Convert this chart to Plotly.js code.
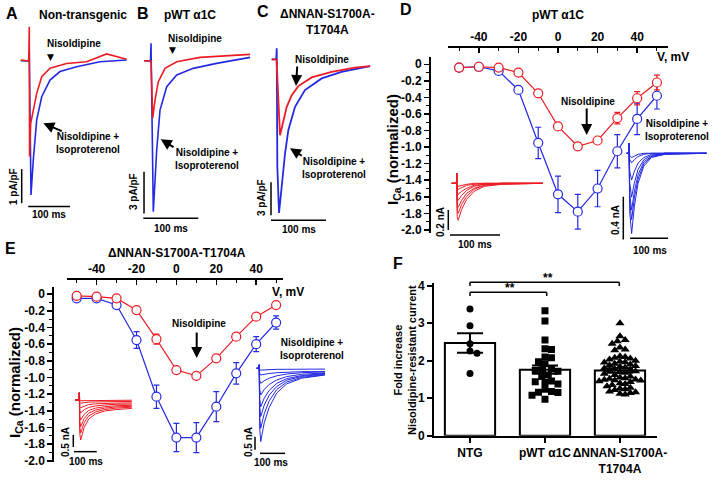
<!DOCTYPE html>
<html>
<head>
<meta charset="utf-8">
<script src="https://cdn.plot.ly/plotly-3.0.1.min.js"></script>
<style>
  body { margin: 0; background: #fff; }
  #fig { width: 713px; height: 489px; }
</style>
</head>
<body>
<div id="fig"></div>
<script>
// ---- panel A-C: example traces (time in ms, current in pA/pF) ----
const aRedT = [0, 19.4, 20.6, 21.3, 24, 30.2, 38.4, 50.4, 70.3, 110, 158, 206, 254];
const aRedI = [0.02, -0.01, 1.0, -2.82, -1.84, -1.45, -0.96, -0.47, -0.22, -0.08, -0.03, 0.2, 0.04];
const aBlueT = [0, 18.7, 20.6, 24.7, 30.2, 38.4, 50.4, 70.3, 94.2, 134, 190, 254];
const aBlueI = [0, -0.01, 0.31, -3.95, -2.92, -1.74, -1.06, -0.57, -0.32, -0.18, -0.03, 0.02];

const bRedT = [0, 12.7, 15.8, 20, 26, 38.2, 59.5, 102, 193];
const bRedI = [0, -0.02, -4.14, -2.83, -1.51, -0.55, -0.07, 0.24, 0.46];
const bBlueT = [0, 11.8, 12.7, 16.9, 23.1, 29.1, 41.3, 59.5, 89.6, 132, 193];
const bBlueI = [0, -0.02, 1.25, -10.86, -6.42, -3.55, -1.87, -1.03, -0.55, -0.19, 0.24];

const cRedT = [0, 8.7, 15.1, 21.1, 27.3, 36.4, 48.4, 72.7, 109, 151, 179];
const cRedI = [0, 0, -6.89, -5.52, -4.31, -3.25, -2.43, -1.64, -1.13, -0.76, -0.61];
const cBlueT = [0, 8.2, 9.1, 10.2, 13.3, 18.2, 24.2, 30.2, 42.4, 60.5, 90.9, 127, 179];
const cBlueI = [0, 0, 1.0, -9.76, -13.95, -11.58, -8.55, -6.43, -4.31, -2.79, -1.73, -1.13, -0.61];

// ---- panel D / E: I-V curves ----
const volts = [-50, -40, -30, -20, -10, 0, 10, 20, 30, 40, 50];
const dRed = [-0.04, -0.03, -0.04, -0.10, -0.35, -0.75, -0.99, -0.92, -0.65, -0.41, -0.22];
const dRedErr = [0.01, 0.01, 0.02, 0.03, 0.03, 0.04, 0.03, 0.03, 0.07, 0.08, 0.09];
const dBlue = [-0.04, -0.03, -0.08, -0.31, -0.95, -1.57, -1.78, -1.50, -1.05, -0.66, -0.38];
const dBlueErr = [0.01, 0.02, 0.04, 0.03, 0.19, 0.22, 0.21, 0.22, 0.20, 0.19, 0.16];

const eRed = [-0.02, -0.03, -0.05, -0.19, -0.54, -0.91, -0.98, -0.77, -0.51, -0.27, -0.13];
const eRedErr = [0.02, 0.02, 0.02, 0.03, 0.06, 0.02, 0.02, 0.02, 0.02, 0.03, 0.02];
const eBlue = [-0.05, -0.05, -0.13, -0.55, -1.23, -1.72, -1.72, -1.35, -0.95, -0.60, -0.34];
const eBlueErr = [0.02, 0.02, 0.02, 0.10, 0.14, 0.17, 0.18, 0.18, 0.13, 0.09, 0.08];

const ivTickVals = [-40, -20, 0, 20, 40];
const ivTickText = ['-40', '-20', '0', '20', '40'];
const ivMinorVals = [-50, -30, -10, 10, 30, 50];
const iTickVals = [0, -0.2, -0.4, -0.6, -0.8, -1.0, -1.2, -1.4, -1.6, -1.8, -2.0];
const iTickText = ['0', '-0.2', '-0.4', '-0.6', '-0.8', '-1.0', '-1.2', '-1.4', '-1.6', '-1.8', '-2.0'];
const iMinorVals = [-0.1, -0.3, -0.5, -0.7, -0.9, -1.1, -1.3, -1.5, -1.7, -1.9];

// ---- inset current families (time ms, current nA) ----
const dInRedT = [0, 9.5, 10, 11, 13, 20, 30, 45, 65, 100, 182];
const dInRed = [
  [0, 0, 0.1, -0.33, -0.37, -0.26, -0.16, -0.08, -0.03, -0.01, 0],
  [0, 0, 0.1, -0.27, -0.30, -0.21, -0.13, -0.06, -0.02, -0.01, 0],
  [0, 0, 0.1, -0.21, -0.24, -0.17, -0.10, -0.05, -0.02, 0, 0],
  [0, 0, 0.1, -0.15, -0.17, -0.12, -0.07, -0.03, -0.01, 0, 0],
  [0, 0, 0.1, -0.09, -0.11, -0.08, -0.05, -0.02, -0.01, 0, 0],
  [0, 0, 0.1, -0.05, -0.06, -0.04, -0.02, -0.01, 0, 0, 0],
  [0, 0, 0.1, -0.02, -0.03, -0.02, -0.01, 0, 0, 0, 0]
];
const dInBlueT = [0, 5, 6, 8, 13, 20, 30, 45, 65, 100, 210];
const dInBlue = [
  [0, 0, 0.09, -0.55, -0.75, -0.50, -0.28, -0.12, -0.04, -0.01, 0],
  [0, 0, 0.09, -0.45, -0.62, -0.42, -0.24, -0.10, -0.03, -0.01, 0],
  [0, 0, 0.09, -0.38, -0.53, -0.36, -0.20, -0.08, -0.03, 0, 0],
  [0, 0, 0.09, -0.28, -0.41, -0.28, -0.15, -0.06, -0.02, 0, 0],
  [0, 0, 0.09, -0.17, -0.25, -0.17, -0.09, -0.04, -0.01, 0, 0],
  [0, 0, 0.09, -0.06, -0.09, -0.06, -0.03, -0.01, 0, 0, 0],
  [0, 0, 0.09, -0.02, -0.04, -0.03, -0.01, 0, 0, 0, 0]
];
const eInRedT = [0, 18, 19, 21, 25, 40, 60, 90, 130, 180, 250];
const eInRed = [
  [0, 0, 0.3, -1.40, -1.67, -1.15, -0.80, -0.58, -0.46, -0.40, -0.35],
  [0, 0, 0.3, -1.15, -1.38, -0.95, -0.67, -0.50, -0.40, -0.34, -0.30],
  [0, 0, 0.3, -0.92, -1.11, -0.78, -0.55, -0.42, -0.34, -0.29, -0.26],
  [0, 0, 0.3, -0.70, -0.83, -0.60, -0.44, -0.34, -0.28, -0.24, -0.22],
  [0, 0, 0.3, -0.45, -0.54, -0.41, -0.31, -0.25, -0.21, -0.18, -0.17],
  [0, 0, 0.3, -0.27, -0.32, -0.25, -0.19, -0.16, -0.14, -0.13, -0.12],
  [0, 0, 0.3, -0.11, -0.13, -0.11, -0.09, -0.08, -0.07, -0.06, -0.06],
  [0, 0, 0.3, -0.02, -0.03, -0.03, -0.02, -0.02, -0.02, -0.01, -0.01]
];
const eInBlueT = [0, 9, 10, 12, 16, 30, 50, 80, 120, 180, 273];
const eInBlue = [
  [0, 0, 0.13, -2.30, -2.82, -2.10, -1.50, -0.95, -0.60, -0.38, -0.26],
  [0, 0, 0.13, -1.90, -2.31, -1.75, -1.25, -0.82, -0.53, -0.35, -0.24],
  [0, 0, 0.13, -1.50, -1.86, -1.42, -1.03, -0.70, -0.46, -0.31, -0.22],
  [0, 0, 0.13, -1.20, -1.48, -1.15, -0.85, -0.58, -0.40, -0.28, -0.20],
  [0, 0, 0.13, -0.83, -1.03, -0.82, -0.62, -0.45, -0.32, -0.23, -0.18],
  [0, 0, 0.13, -0.46, -0.58, -0.48, -0.38, -0.29, -0.22, -0.17, -0.14],
  [0, 0, 0.13, -0.20, -0.26, -0.23, -0.20, -0.17, -0.15, -0.13, -0.13],
  [0, 0, 0.13, -0.05, -0.07, -0.06, -0.05, -0.04, -0.04, -0.03, -0.03]
];

// ---- panel F ----
const fCats = ['NTG', 'pWT \u03b11C', '\u0394NNAN-S1700A-<br>T1704A'];
const fMeans = [2.47, 1.76, 1.74];
const fSem = [0.26, 0.11, 0.06];
const fNTG = [3.38, 2.93, 2.45, 2.26, 2.20, 1.66];
const fPWT = [3.33, 3.06, 2.55, 2.32, 2.30, 2.10, 2.08, 1.97, 1.92, 1.78, 1.76, 1.74, 1.72,
  1.62, 1.58, 1.46, 1.44, 1.42, 1.38, 1.24, 1.18, 1.16, 1.15, 1.08, 0.97];
const fMut = [3.00, 2.65, 2.55, 2.52, 2.45, 2.35, 2.30, 2.28, 2.12, 2.10, 2.08, 2.06, 2.03, 2.00,
  1.98, 1.96, 1.95, 1.92, 1.90, 1.88, 1.86, 1.84, 1.82, 1.80, 1.78, 1.76, 1.74, 1.72, 1.70, 1.68,
  1.65, 1.62, 1.58, 1.55, 1.53, 1.52, 1.50, 1.49, 1.48, 1.47, 1.45, 1.43, 1.40, 1.38, 1.35, 1.32,
  1.28, 1.26, 1.24, 1.22, 1.18, 1.16, 1.14, 1.12, 1.10];
const fTickVals = [0, 1, 2, 3, 4];

const W = 713, H = 489;
const FONT = 'Liberation Sans, Arial, sans-serif';
const RED = 'rgb(236,28,36)';
const BLUE = 'rgb(36,42,226)';
const TICKFONT = {family: FONT, size: 12, color: 'black', weight: 'bold'};

function dx(p) { return p / W; }
function dy(p) { return 1 - p / H; }

// simple beeswarm: spread points sideways so they don't overlap (pixel space)
function swarm(vals, center, pxPerX, pxPerY, diam) {
  const order = vals.map((v, i) => i).sort((a, b) => vals[b] - vals[a]);
  const placed = [];
  const xs = new Array(vals.length);
  order.forEach(i => {
    const yp = vals[i] * pxPerY;
    for (let k = 0; k < 200; k++) {
      const off = (k === 0 ? 0 : (k % 2 ? 1 : -1) * Math.ceil(k / 2)) * diam * 0.5;
      const ok = placed.every(p => Math.hypot(p[0] - off, p[1] - yp) >= diam);
      if (ok) { placed.push([off, yp]); xs[i] = center + off / pxPerX; break; }
    }
  });
  return xs;
}

const data = [];
function line(x, y, xa, ya, color, w) {
  data.push({x: x, y: y, xaxis: xa, yaxis: ya, mode: 'lines', line: {color: color, width: w}, hoverinfo: 'skip'});
}

// A, B, C
line(aBlueT, aBlueI, 'x4', 'y4', BLUE, 1.6);
line(aRedT, aRedI, 'x4', 'y4', RED, 1.6);
line(bBlueT, bBlueI, 'x5', 'y5', BLUE, 1.6);
line(bRedT, bRedI, 'x5', 'y5', RED, 1.6);
line(cBlueT, cBlueI, 'x6', 'y6', BLUE, 1.8);
line(cRedT, cRedI, 'x6', 'y6', RED, 1.8);

// insets
dInRed.forEach(tr => line(dInRedT, tr, 'x7', 'y7', RED, 1));
dInBlue.forEach(tr => line(dInBlueT, tr, 'x8', 'y8', BLUE, 1));
eInRed.forEach(tr => line(eInRedT, tr, 'x9', 'y9', RED, 1));
eInBlue.forEach(tr => line(eInBlueT, tr, 'x10', 'y10', BLUE, 1));

// I-V curves
function iv(y, err, xa, ya, color) {
  data.push({
    x: volts, y: y, xaxis: xa, yaxis: ya, mode: 'lines+markers',
    line: {color: color, width: 1.2},
    marker: {symbol: 'circle', size: 9, color: 'white', line: {color: color, width: 1.2}},
    error_y: {type: 'data', array: err, visible: true, color: color, thickness: 1.2, width: 3},
    hoverinfo: 'skip'
  });
}
iv(dBlue, dBlueErr, 'x', 'y', BLUE);
iv(dRed, dRedErr, 'x', 'y', RED);
iv(eBlue, eBlueErr, 'x2', 'y2', BLUE);
iv(eRed, eRedErr, 'x2', 'y2', RED);

// F bars + points + SEM
data.push({
  type: 'bar', x: [0, 1, 2], y: fMeans, width: 0.67, xaxis: 'x3', yaxis: 'y3',
  marker: {color: 'white', line: {color: 'black', width: 2}}, hoverinfo: 'skip'
});
const groups = [[fNTG, 'circle', 7, 7], [fPWT, 'square', 7, 6.5], [fMut, 'triangle-up', 8, 5.2]];
groups.forEach((g, i) => {
  data.push({
    x: swarm(g[0], i, 75, 37.5, g[3]), y: g[0], xaxis: 'x3', yaxis: 'y3', mode: 'markers',
    marker: {symbol: g[1], size: g[2], color: 'black'}, hoverinfo: 'skip'
  });
});
data.push({
  x: [0, 1, 2], y: fMeans, xaxis: 'x3', yaxis: 'y3', mode: 'markers',
  marker: {size: 1, color: 'black'},
  error_y: {type: 'data', array: fSem, visible: true, color: 'black', thickness: 2, width: 13},
  hoverinfo: 'skip'
});

// axes
function hidden(dom, domY, rx, ry, a) {
  return [
    {domain: dom, range: rx, visible: false, anchor: 'y' + a, fixedrange: true},
    {domain: domY, range: ry, visible: false, anchor: 'x' + a, fixedrange: true}
  ];
}
function ivX(dom, rng, pos) {
  return {
    domain: dom, range: rng, anchor: 'free', position: pos, side: 'top',
    showline: true, linecolor: 'black', linewidth: 2,
    ticks: 'inside', ticklen: 5, tickwidth: 1.5, tickcolor: 'black',
    tickmode: 'array', tickvals: ivTickVals, ticktext: ivTickText,
    minor: {tickmode: 'array', tickvals: ivMinorVals, ticks: 'inside', ticklen: 3, tickwidth: 1, tickcolor: 'black'},
    showgrid: false, zeroline: false, tickfont: TICKFONT, fixedrange: true
  };
}
function ivY(dom, rng, pos) {
  return {
    domain: dom, range: rng, anchor: 'free', position: pos, side: 'left',
    showline: true, linecolor: 'black', linewidth: 2,
    ticks: 'outside', ticklen: 5, tickwidth: 1.5, tickcolor: 'black',
    tickmode: 'array', tickvals: iTickVals, ticktext: iTickText,
    minor: {tickmode: 'array', tickvals: iMinorVals, ticks: 'outside', ticklen: 3, tickwidth: 1, tickcolor: 'black'},
    showgrid: false, zeroline: false, tickfont: TICKFONT, fixedrange: true
  };
}

const layout = {
  width: W, height: H,
  margin: {l: 0, r: 0, t: 0, b: 0},
  paper_bgcolor: 'white', plot_bgcolor: 'rgba(0,0,0,0)',
  showlegend: false,
  font: {family: FONT, size: 12, color: 'black', weight: 'bold'},
  xaxis: ivX([dx(448), dx(668)], [-55.6, 55.6], dy(47)),
  yaxis: ivY([dy(233), dy(57)], [-2.037, 0.088], dx(430)),
  xaxis2: ivX([dx(66.7), dx(283.3)], [-55, 53.6], dy(279)),
  yaxis2: ivY([dy(461.7), dy(286.7)], [-2.01, 0.09], dx(53.3)),
  xaxis3: {
    domain: [dx(434), dx(656.7)], range: [-0.48, 2.49], anchor: 'y3',
    showline: true, linecolor: 'black', linewidth: 2,
    ticks: 'outside', ticklen: 5, tickwidth: 2, tickcolor: 'black',
    tickmode: 'array', tickvals: [0, 1, 2], ticktext: fCats, tickangle: 0,
    showgrid: false, zeroline: false, tickfont: TICKFONT, fixedrange: true
  },
  yaxis3: {
    domain: [dy(435.7), dy(283.3)], range: [0, 4.064], anchor: 'x3',
    showline: true, linecolor: 'black', linewidth: 2,
    ticks: 'outside', ticklen: 5, tickwidth: 2, tickcolor: 'black',
    tickmode: 'array', tickvals: fTickVals,
    showgrid: false, zeroline: false, tickfont: TICKFONT, fixedrange: true
  },
  shapes: [],
  annotations: []
};

const hid = [
  [4, [0, dx(140)], [dy(220), dy(20)], [-49.6, 286], [-4.685, 1.197]],
  [5, [dx(130), dx(260)], [dy(240), dy(20)], [-25.5, 211], [-12.9, 2.93]],
  [6, [dx(255), dx(385)], [dy(240), dy(20)], [-30.4, 206], [-16.4, 3.57]],
  [7, [dx(440), dx(545)], [dy(240), dy(165)], [-23.4, 186.6], [-0.567, 0.183]],
  [8, [dx(610), 1], [dy(245), dy(140)], [-43.9, 227], [-0.857, 0.124]],
  [9, [dx(60), dx(135)], [dy(465), dy(385)], [-66, 264], [-2.71, 0.625]],
  [10, [dx(240), dx(330)], [dy(470), dy(355)], [-66.8, 293], [-3.91, 0.51]]
];
hid.forEach(h => {
  const ax = hidden(h[1], h[2], h[3], h[4], h[0]);
  layout['xaxis' + h[0]] = ax[0];
  layout['yaxis' + h[0]] = ax[1];
});

// scale bars (in each inset's own units)
function sbar(a, x0, y0, x1, y1) {
  layout.shapes.push({type: 'line', xref: 'x' + a, yref: 'y' + a, x0: x0, y0: y0, x1: x1, y1: y1,
    line: {color: 'black', width: 1.5}});
}
sbar(4, 2.4, -3.19, 2.4, -4.19);      // 1 pA/pF
sbar(4, 18.2, -4.29, 118.2, -4.29);   // 100 ms
sbar(5, 0, -7.99, 0, -10.99);         // 3 pA/pF
sbar(5, -1.3, -11.34, 98.7, -11.34);
sbar(6, -1.3, -11.15, -1.3, -14.15);
sbar(6, -1.3, -14.6, 98.7, -14.6);
sbar(7, -6.8, -0.267, -6.8, -0.467);  // 0.2 nA
sbar(7, -3.4, -0.517, 96.6, -0.517);
sbar(8, -8.9, -0.406, -8.9, -0.806);  // 0.4 nA
sbar(8, 8.7, -0.794, 108.7, -0.794);
sbar(9, -7.5, -1.458, -7.5, -1.958);  // 0.5 nA
sbar(9, -4.4, -2.154, 95.6, -2.154);
sbar(10, -6.8, -2.63, -6.8, -3.13);   // 0.5 nA
sbar(10, 13.2, -3.27, 113.2, -3.27);

// significance brackets in F
function pline(x0, y0, x1, y1) {
  layout.shapes.push({type: 'line', xref: 'paper', yref: 'paper', x0: dx(x0), y0: dy(y0), x1: dx(x1), y1: dy(y1),
    line: {color: 'black', width: 1.5}});
}
pline(470, 282.3, 619.3, 282.3); pline(470, 282.3, 470, 286); pline(619.3, 282.3, 619.3, 286);
pline(470, 292.3, 546.7, 292.3); pline(470, 292.3, 470, 296); pline(546.7, 292.3, 546.7, 296);

function txt(x, y, text, size, extra) {
  layout.annotations.push(Object.assign({
    xref: 'paper', yref: 'paper', x: dx(x), y: dy(y), text: text, showarrow: false,
    xanchor: 'center', yanchor: 'middle',
    font: {family: FONT, size: size, color: 'black', weight: 'bold'}
  }, extra || {}));
}
function arrow(hx, hy, tx, ty) {
  layout.annotations.push({
    xref: 'paper', yref: 'paper', x: dx(hx), y: dy(hy), ax: tx - hx, ay: ty - hy, text: '',
    showarrow: true, arrowhead: 2, arrowsize: 1.1, arrowwidth: 2, arrowcolor: 'black'
  });
}
const ROT = {textangle: -90};
const TRI = {font: {family: 'DejaVu Sans', size: 9, color: 'black'}};

// panel letters
txt(12, 14, 'A', 16); txt(143, 14, 'B', 16); txt(263, 12, 'C', 16);
txt(406, 10, 'D', 16); txt(10, 248, 'E', 16); txt(398, 263, 'F', 16);

// panel titles
txt(83, 15, 'Non-transgenic', 12);
txt(190, 15, 'pWT \u03b11C', 12);
txt(327, 22, '\u0394NNAN-S1700A-<br>T1704A', 12);
txt(558, 15, 'pWT \u03b11C', 12);
txt(177, 253, '\u0394NNAN-S1700A-T1704A', 12);
txt(673, 57, 'V, mV', 12);
txt(288, 292, 'V, mV', 12);

// drug labels and arrows
txt(74, 44, 'Nisoldipine', 10);
txt(50.7, 57, '\u25bc', 9, TRI);
txt(87.5, 143, 'Nisoldipine +<br>Isoproterenol', 10);
arrow(43.3, 123.3, 63.3, 131.7);

txt(195, 38, 'Nisoldipine', 10);
txt(172.7, 50, '\u25bc', 9, TRI);
txt(207, 159, 'Nisoldipine +<br>Isoproterenol', 10);
arrow(160.7, 139.3, 175, 148);

txt(322, 59, 'Nisoldipine', 10);
arrow(296, 86, 297.3, 65);
txt(334, 168.5, 'Nisoldipine +<br>Isoproterenol', 10);
arrow(290, 148.3, 303.3, 156.7);

txt(588, 101, 'Nisoldipine', 10);
arrow(586.7, 135, 586.7, 107);
txt(677, 130, 'Nisoldipine +<br>Isoproterenol', 10);

txt(199, 323, 'Nisoldipine', 10);
arrow(196.7, 358, 196.7, 331);
txt(312, 349, 'Nisoldipine +<br>Isoproterenol', 10);

// scale labels
txt(13.3, 186.7, '1 pA/pF', 10, ROT); txt(49.3, 214, '100 ms', 10);
txt(133.3, 191.7, '3 pA/pF', 10, ROT); txt(170.7, 228.3, '100 ms', 10);
txt(261, 198, '3 pA/pF', 10, ROT); txt(299, 229, '100 ms', 10);
txt(440, 222, '0.2 nA', 10, ROT); txt(475, 244, '100 ms', 10);
txt(616, 220, '0.4 nA', 10, ROT); txt(650, 250, '100 ms', 10);
txt(65, 442, '0.5 nA', 10, ROT); txt(86, 461, '100 ms', 10);
txt(248, 442, '0.5 nA', 10, ROT); txt(271, 462, '100 ms', 10);

// axis titles
txt(393, 150, 'I<sub>Ca</sub> (normalized)', 15, ROT);
txt(15, 383, 'I<sub>Ca</sub> (normalized)', 15, ROT);
txt(405, 360, 'Fold increase<br>Nisoldipine-resistant current', 11, ROT);

// significance stars
txt(548, 278, '**', 12);
txt(510, 288, '**', 12);

Plotly.newPlot('fig', data, layout, {staticPlot: true, displayModeBar: false});
</script>
</body>
</html>
